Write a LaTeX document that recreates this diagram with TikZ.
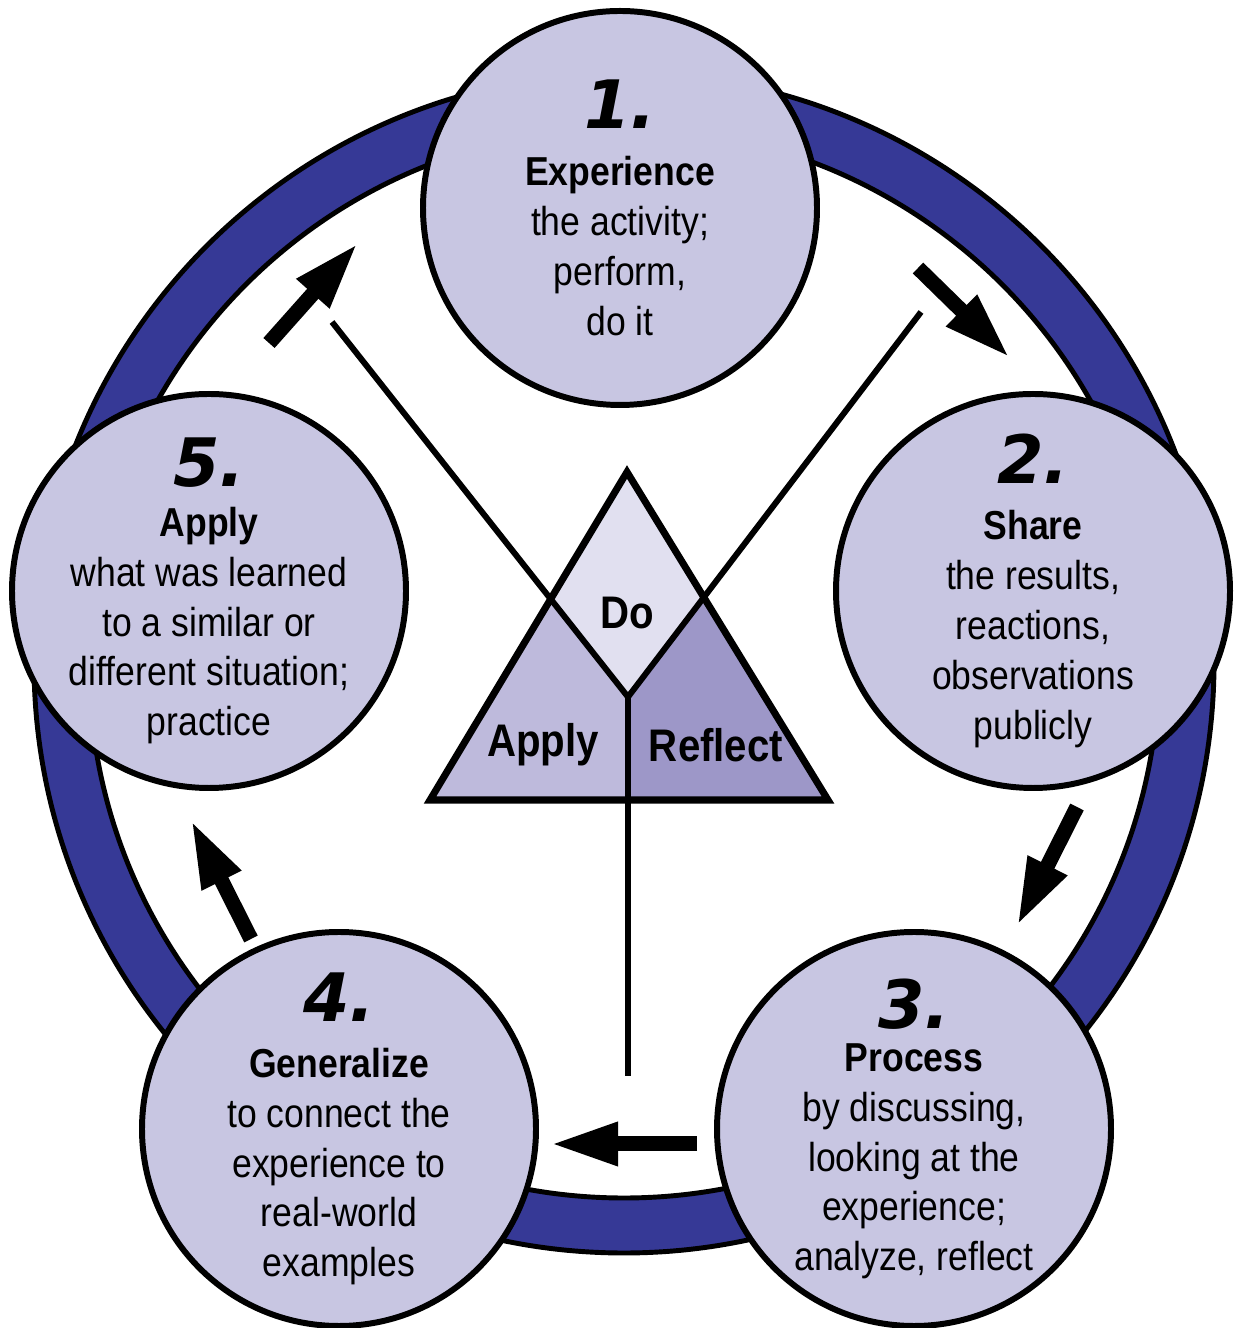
\documentclass[tikz,border=0pt]{standalone}
\usepackage{fontspec}
\setmainfont{Liberation Sans}[FakeStretch=0.88]
\newfontfamily\numfont{DejaVu Sans}
\usetikzlibrary{arrows.meta}
\definecolor{ringblue}{RGB}{54,57,150}
\definecolor{stagefill}{RGB}{200,198,226}
\definecolor{dofill}{RGB}{225,224,240}
\definecolor{applyfill}{RGB}{190,186,220}
\definecolor{reflectfill}{RGB}{157,151,200}
\newcommand{\stagenum}[1]{{\fontsize{19}{19}\selectfont\numfont\bfseries\itshape #1}}

\begin{document}
\begin{tikzpicture}[scale=1,
        stage/.style={circle, draw, line width=1.7pt, fill=stagefill, minimum size=3.94cm,
            inner sep=-5mm, align=center, font=\fontsize{11.5}{14.2}\selectfont},
        flow/.style={line width=0.15cm, -{Triangle[length=0.68cm, width=0.40cm]}},
        part/.style={font=\fontsize{13}{15}\selectfont\bfseries}]
        \useasboundingbox (0,0) rectangle (12.37,13.28);

        % Outer ring
        \coordinate (hub) at (6.24, 6.65);
        \draw[fill=ringblue, line width=1.4pt, even odd rule] (hub) circle (5.90) (hub) circle (5.35);

        % Points of the triangle and the Y
        \coordinate (top) at (6.27, 8.56);
        \coordinate (bl) at (4.30, 5.28);
        \coordinate (br) at (8.28, 5.28);
        \coordinate (bm) at (6.28, 5.28);
        \coordinate (dl) at (5.50, 7.31);
        \coordinate (dr) at (7.05, 7.31);
        \coordinate (mid) at (6.28, 6.31);
        \coordinate (ul) at (3.32, 10.06);
        \coordinate (ur) at (9.21, 10.16);
        \coordinate (low) at (6.28, 2.52);

        % Fill the three parts
        \fill[applyfill] (bl) -- (dl) -- (mid) -- (bm) -- cycle;
        \fill[reflectfill] (br) -- (dr) -- (mid) -- (bm) -- cycle;
        \fill[dofill] (top) -- (dl) -- (mid) -- (dr) -- cycle;
        \draw[line width=1.7pt, line join=bevel] (ul) -- (mid) -- (ur) (mid) -- (low);
        \draw[line width=2pt] (top) -- (bl) -- (br) -- cycle;

        \node at (6.27, 7.15) (do) [part] {Do};
        \node at (5.43, 5.83) (apply) [part] {Apply};
        \node at (7.16, 5.83) (reflect) [part] {Reflect};

        % Arrows between the stages
        \coordinate (a12) at (9.18, 10.60);
        \coordinate (b12) at (10.10, 9.70);
        \coordinate (a23) at (10.77, 5.21);
        \coordinate (b23) at (10.17, 4.02);
        \coordinate (a34) at (6.97, 1.84);
        \coordinate (b34) at (5.50, 1.84);
        \coordinate (a45) at (2.51, 3.89);
        \coordinate (b45) at (1.91, 5.08);
        \coordinate (a51) at (2.69, 9.85);
        \coordinate (b51) at (3.58, 10.85);
        \draw[flow] (a12) -- (b12);
        \draw[flow] (a23) -- (b23);
        \draw[flow] (a34) -- (b34);
        \draw[flow] (a45) -- (b45);
        \draw[flow] (a51) -- (b51);

        % Define nodes for the five stages
        \node at (6.20, 11.20) (s1) [stage] {\stagenum{1.}\\[2pt] \textbf{Experience}\\ the activity;\\ perform,\\ do it};
        \node at (10.33, 7.37) (s2) [stage] {\stagenum{2.}\\[1.7pt] \textbf{Share}\\ the results,\\ reactions,\\ observations\\ publicly};
        \node at (9.14, 1.99) (s3) [stage] {\stagenum{3.}\\[-2pt] \textbf{Process}\\ by discussing,\\ looking at the\\ experience;\\ analyze, reflect};
        \node at (3.39, 1.99) (s4) [stage] {\stagenum{4.}\\[1.7pt] \textbf{Generalize}\\ to connect the\\ experience to\\ real-world\\ examples};
        \node at (2.09, 7.37) (s5) [stage] {\stagenum{5.}\\[0pt] \textbf{Apply}\\ what was learned\\ to a similar or\\ different situation;\\ practice};
    \end{tikzpicture}
\end{document}
